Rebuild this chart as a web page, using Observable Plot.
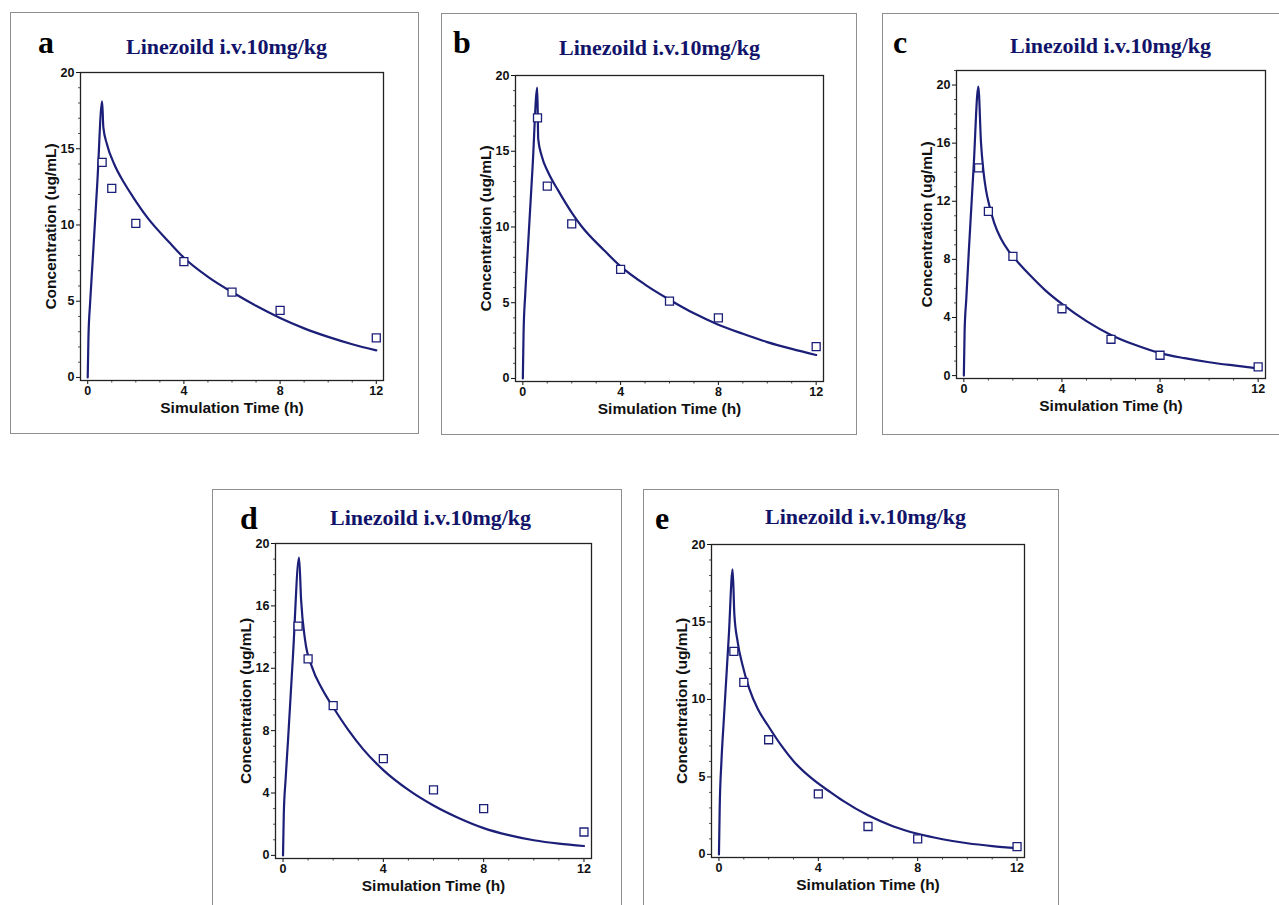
<!DOCTYPE html>
<html><head><meta charset="utf-8">
<script src="https://cdn.jsdelivr.net/npm/d3@7"></script>
<script src="https://cdn.jsdelivr.net/npm/@observablehq/plot@0.6"></script>
<style>
body{margin:0;background:#fff;}
#fig{position:relative;width:1279px;height:905px;overflow:hidden;background:#fff;}
.box{position:absolute;border:1px solid #8e8e8e;box-sizing:border-box;}
.letter{position:absolute;font-family:"Liberation Serif","Times New Roman",serif;font-weight:bold;font-size:32px;line-height:1;color:#000;white-space:nowrap;}
.title{position:absolute;font-family:"Liberation Serif","Times New Roman",serif;font-weight:bold;font-size:22px;line-height:1;color:#12146a;white-space:nowrap;}
.plot{position:absolute;}
</style></head>
<body><div id="fig"></div>
<script>
// ---- data ----
const panelLetters = ["a", "b", "c", "d", "e"];
const titleText = "Linezoild i.v.10mg/kg";
const xLabel = "Simulation Time (h)";
const yLabel = "Concentration (ug/mL)";

// observed concentrations (ug/mL)
const obsTime = [0.6, 1, 2, 4, 6, 8, 12];
const obsA = [14.1, 12.4, 10.1, 7.6, 5.6, 4.4, 2.6];
const obsB = [17.2, 12.7, 10.2, 7.2, 5.1, 4.0, 2.1];
const obsC = [14.3, 11.3, 8.2, 4.6, 2.5, 1.4, 0.6];
const obsD = [14.7, 12.6, 9.6, 6.2, 4.2, 3.0, 1.5];
const obsE = [13.1, 11.1, 7.4, 3.9, 1.8, 1.0, 0.5];

// simulated curves (time h, concentration ug/mL)
const timeA = [0, 0.03, 0.1, 0.2, 0.4, 0.6, 0.65, 0.8, 1.1, 1.5, 1.9, 2.5, 3.4, 4, 5, 6, 7, 8, 9, 10, 11, 12];
const simA  = [0, 2.6, 4.9, 7.5, 12.8, 18.1, 16.4, 15.3, 14.0, 12.8, 11.8, 10.45, 8.85, 7.85, 6.6, 5.6, 4.7, 3.9, 3.22, 2.66, 2.18, 1.78];
const timeB = [0, 0.03, 0.1, 0.2, 0.4, 0.59, 0.63, 0.77, 1.04, 1.45, 2, 2.4, 3.3, 4, 5, 6, 7, 8, 9, 10, 11, 12];
const simB  = [0, 3.0, 5.6, 8.4, 14.0, 19.2, 15.8, 14.7, 13.6, 12.4, 10.95, 10.05, 8.5, 7.4, 6.2, 5.2, 4.3, 3.55, 2.95, 2.4, 1.95, 1.55];
const timeC = [0, 0.03, 0.1, 0.2, 0.4, 0.59, 0.7, 0.79, 0.9, 1.04, 1.24, 1.52, 1.86, 2.26, 2.7, 3.3, 4, 5, 6, 7, 8, 9, 10, 11, 12];
const simC  = [0, 3.0, 5.3, 8.5, 14.4, 19.9, 16.0, 14.2, 12.8, 11.7, 10.5, 9.4, 8.5, 7.7, 6.9, 5.9, 4.93, 3.75, 2.8, 2.1, 1.55, 1.2, 0.92, 0.7, 0.5];
const timeD = [0, 0.03, 0.1, 0.2, 0.4, 0.64, 0.72, 0.88, 1.15, 1.55, 2, 2.6, 3.2, 4, 5, 6, 7, 8, 9, 10, 11, 12];
const simD  = [0, 2.6, 4.8, 7.4, 12.9, 19.1, 16.4, 13.8, 12.1, 10.7, 9.5, 8.05, 6.8, 5.47, 4.2, 3.2, 2.4, 1.75, 1.3, 0.97, 0.75, 0.6];
const timeE = [0, 0.03, 0.1, 0.2, 0.4, 0.55, 0.62, 0.75, 0.95, 1.22, 1.56, 1.96, 2.5, 3.03, 3.7, 4.5, 5, 6, 7, 8, 9, 10, 11, 12];
const simE  = [0, 3.0, 6.0, 8.8, 14.2, 18.4, 15.5, 13.75, 12.2, 10.7, 9.4, 8.35, 7.05, 5.97, 4.95, 4.0, 3.45, 2.52, 1.82, 1.33, 0.98, 0.72, 0.54, 0.41];

const xTicks = [0, 4, 8, 12];
const xMinorTicks = [1, 2, 3, 5, 6, 7, 9, 10, 11];
const yTicks5 = [0, 5, 10, 15, 20];
const yTicks4 = [0, 4, 8, 12, 16, 20];

const obsSeries = [obsA, obsB, obsC, obsD, obsE];
const simTimes = [timeA, timeB, timeC, timeD, timeE];
const simSeries = [simA, simB, simC, simD, simE];
const yTickSets = [yTicks5, yTicks5, yTicks4, yTicks4, yTicks5];
const yMax = [20, 20, 21, 20, 20];

// ---- layout (pixel boxes of the figure) ----
const layout = [
  {box: [10, 12, 409, 422], frame: [80, 72, 383, 380], letter: [38, 53], title: [126, 54]},
  {box: [441, 13, 416, 422], frame: [515, 75, 823, 381], letter: [453, 53], title: [559, 55]},
  {box: [882, 13, 420, 422], frame: [956, 70, 1265, 378], letter: [893, 53], title: [1010, 53]},
  {box: [212, 489, 410, 430], frame: [275, 543, 591, 858], letter: [240, 529], title: [330, 525]},
  {box: [643, 489, 416, 430], frame: [711, 544, 1024, 857], letter: [655, 529], title: [765, 524]}
];

const navy = "#1c1f78";
const fig = document.getElementById("fig");

function place(el, left, top) {
  el.style.left = left + "px";
  el.style.top = top + "px";
  fig.appendChild(el);
  return el;
}

panelLetters.forEach((letter, i) => {
  const L = layout[i];
  const [bx, by, bw, bh] = L.box;
  const box = document.createElement("div");
  box.className = "box";
  box.style.width = bw + "px";
  box.style.height = bh + "px";
  place(box, bx, by);

  const svgLeft = bx + 1, svgTop = by + 1;
  const width = bw - 2, height = bh - 2;
  const [fl, ft, fr, fb] = L.frame;
  const minorY = d3.range(0, yMax[i] + 0.001, 1).filter(v => !yTickSets[i].includes(v));

  const obs = obsTime.map((t, j) => ({t, c: obsSeries[i][j]}));
  const sim = simTimes[i].map((t, j) => ({t, c: simSeries[i][j]}));

  const chart = Plot.plot({
    width, height,
    marginLeft: fl - svgLeft,
    marginTop: ft - svgTop,
    marginRight: svgLeft + width - fr,
    marginBottom: svgTop + height - fb,
    style: {background: "transparent", fontFamily: "'Liberation Sans', Arial, sans-serif", color: "#111"},
    x: {domain: [-0.3, 12.3], label: null},
    y: {domain: [-0.2, yMax[i]], label: null},
    marks: [
      Plot.axisX(xMinorTicks, {tickSize: 2.5, tickFormat: () => "", label: null, stroke: "#444"}),
      Plot.axisY(minorY, {tickSize: 2, tickFormat: () => "", label: null, stroke: "#555"}),
      Plot.axisX(xTicks, {tickSize: 4, tickPadding: 2, fontSize: 12.5, fontWeight: "bold", label: null}),
      Plot.axisY(yTickSets[i], {tickSize: 4, tickPadding: 2, fontSize: 12.5, fontWeight: "bold", label: null}),
      Plot.frame({stroke: "#222", strokeWidth: 1.3}),
      Plot.line(sim, {x: "t", y: "c", stroke: navy, strokeWidth: 2.2, curve: "monotone-x"}),
      Plot.dot(obs, {x: "t", y: "c", symbol: "square", r: 4.5, stroke: navy, strokeWidth: 1.3, fill: "white"}),
      Plot.text([xLabel], {frameAnchor: "bottom", textAnchor: "middle", lineAnchor: "middle", dy: 28, fontSize: 15.5, fontWeight: "bold", fill: "#111"}),
      Plot.text([yLabel], {frameAnchor: "left", textAnchor: "middle", lineAnchor: "middle", rotate: -90, dx: -29, fontSize: 15.5, fontWeight: "bold", fill: "#111"})
    ]
  });
  chart.classList.add("plot");
  place(chart, svgLeft, svgTop);

  const let_ = document.createElement("div");
  let_.className = "letter";
  let_.textContent = letter;
  place(let_, L.letter[0], L.letter[1] - 0.8375 * 32);

  const tt = document.createElement("div");
  tt.className = "title";
  tt.textContent = titleText;
  place(tt, L.title[0], L.title[1] - 0.8375 * 22);
});
</script>
</body></html>
